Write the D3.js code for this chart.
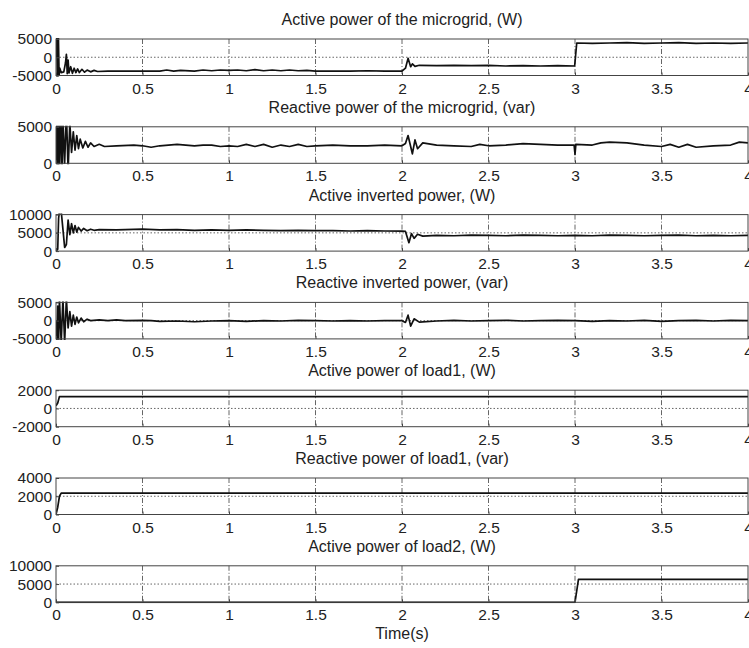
<!DOCTYPE html>
<html>
<head>
<meta charset="utf-8">
<script src="https://cdn.jsdelivr.net/npm/d3@7"></script>
<style>
  body { margin: 0; background: #fff; }
  svg { display: block; font-family: "Liberation Sans", Arial, sans-serif; }
</style>
</head>
<body>
<svg id="chart" width="749" height="648"></svg>
<script>
// panel titles, top to bottom
const titles = [
  "Active power of the microgrid, (W)",
  "Reactive power of the microgrid, (var)",
  "Active inverted power, (W)",
  "Reactive inverted power, (var)",
  "Active power of load1, (W)",
  "Reactive power of load1, (var)",
  "Active power of load2, (W)"
];

const yDomains = [
  [-5000, 5000], [0, 5000], [0, 10000], [-5000, 5000],
  [-2000, 2000], [0, 4000], [0, 10000]
];
const yTicks = [
  [-5000, 0, 5000], [0, 5000], [0, 5000, 10000], [-5000, 0, 5000],
  [-2000, 0, 2000], [0, 2000, 4000], [0, 5000, 10000]
];
const xTicks = [0, 0.5, 1, 1.5, 2, 2.5, 3, 3.5, 4];

// [time (s), value]
const microgridP = [
  [0, 0], [0.003, 9000], [0.008, -6000], [0.013, 8000], [0.018, -5000], [0.022, -3000],
  [0.03, -4200], [0.045, -4000], [0.055, -1500], [0.06, 800], [0.065, -4500], [0.07, -800],
  [0.075, -4300], [0.085, -2600], [0.095, -4400], [0.105, -3000], [0.115, -4200], [0.125, -3200],
  [0.135, -4200], [0.15, -3300], [0.165, -4100], [0.18, -3500], [0.2, -4000], [0.22, -3600],
  [0.24, -3900], [0.3, -3800], [0.4, -3800], [0.5, -3800], [0.6, -3800], [0.64, -3500],
  [0.68, -3800], [0.72, -3600], [0.8, -3800], [0.85, -3500], [0.9, -3700], [0.95, -3500],
  [1.0, -3600], [1.05, -3500], [1.1, -3700], [1.15, -3400], [1.2, -3700], [1.25, -3500],
  [1.3, -3700], [1.35, -3500], [1.4, -3700], [1.45, -3600], [1.5, -3800], [1.6, -3800],
  [1.7, -3800], [1.8, -3700], [1.9, -3800], [2.0, -3800], [2.02, -3000], [2.035, -300],
  [2.05, -2600], [2.06, -1800], [2.075, -2500], [2.1, -2200], [2.2, -2300], [2.3, -2200],
  [2.4, -2300], [2.5, -2200], [2.6, -2400], [2.7, -2300], [2.8, -2400], [2.9, -2300],
  [2.998, -2400], [3.01, 3900], [3.1, 3800], [3.2, 3900], [3.3, 4000], [3.4, 3800],
  [3.5, 3900], [3.6, 4000], [3.7, 3800], [3.8, 3900], [3.9, 3800], [4.0, 3900]
];
const microgridQ = [
  [0, 0], [0.005, 8000], [0.01, -2000], [0.015, 8000], [0.02, -2000], [0.028, 8000],
  [0.035, -2000], [0.04, 6000], [0.05, 0], [0.06, 7000], [0.07, -1000], [0.08, 5500],
  [0.09, 1500], [0.1, 4300], [0.11, 1800], [0.12, 3800], [0.13, 2000], [0.14, 3300],
  [0.155, 2100], [0.17, 3000], [0.185, 2200], [0.2, 2800], [0.22, 2300], [0.25, 2600],
  [0.28, 2300], [0.35, 2400], [0.45, 2500], [0.5, 2400], [0.55, 2200], [0.6, 2400],
  [0.65, 2500], [0.7, 2600], [0.75, 2500], [0.8, 2400], [0.85, 2500], [0.9, 2500],
  [0.95, 2300], [1.0, 2400], [1.05, 2300], [1.1, 2600], [1.15, 2300], [1.2, 2600],
  [1.25, 2200], [1.3, 2500], [1.35, 2300], [1.4, 2600], [1.45, 2300], [1.5, 2400],
  [1.6, 2500], [1.7, 2400], [1.8, 2400], [1.9, 2500], [2.0, 2400], [2.02, 2700],
  [2.035, 3800], [2.06, 1300], [2.075, 3200], [2.09, 2000], [2.12, 2800], [2.2, 2500],
  [2.3, 2400], [2.4, 2300], [2.45, 2600], [2.5, 2400], [2.6, 2500], [2.7, 2700],
  [2.8, 2600], [2.9, 2500], [2.995, 2500], [3.0, 1200], [3.005, 2600], [3.1, 2500],
  [3.15, 2800], [3.2, 2900], [3.3, 2800], [3.4, 2500], [3.5, 2300], [3.55, 2600],
  [3.6, 2200], [3.65, 2600], [3.7, 2200], [3.8, 2400], [3.9, 2500], [3.95, 2900], [4.0, 2800]
];
const inverterP = [
  [0, 0], [0.01, 500], [0.015, 9000], [0.02, 11000], [0.025, 10500], [0.03, 11000],
  [0.04, 6000], [0.05, 1000], [0.06, 1800], [0.07, 8500], [0.08, 4500], [0.09, 7500],
  [0.1, 5000], [0.11, 7000], [0.12, 5200], [0.13, 6500], [0.145, 5500], [0.16, 6200],
  [0.18, 5600], [0.2, 6000], [0.22, 5700], [0.25, 5900], [0.35, 5800], [0.5, 6000],
  [0.6, 5800], [0.7, 5900], [0.8, 5700], [0.9, 5800], [1.0, 5700], [1.1, 5800],
  [1.2, 5700], [1.3, 5600], [1.4, 5700], [1.5, 5600], [1.6, 5600], [1.7, 5500],
  [1.8, 5600], [1.9, 5500], [2.0, 5500], [2.02, 5400], [2.04, 2300], [2.055, 4800],
  [2.07, 3500], [2.09, 4600], [2.12, 4100], [2.2, 4300], [2.3, 4200], [2.4, 4400],
  [2.5, 4300], [2.6, 4200], [2.7, 4400], [2.8, 4300], [2.9, 4200], [3.0, 4300],
  [3.1, 4200], [3.2, 4400], [3.3, 4300], [3.4, 4200], [3.5, 4300], [3.6, 4400],
  [3.7, 4200], [3.8, 4300], [3.9, 4200], [4.0, 4300]
];
const inverterQ = [
  [0, 0], [0.005, -6000], [0.01, 4000], [0.015, -6000], [0.02, 6000], [0.03, -6000],
  [0.04, 6000], [0.05, -6000], [0.06, 6000], [0.07, -2000], [0.08, 2500], [0.09, -1500],
  [0.1, 1500], [0.11, -1000], [0.12, 1000], [0.13, -600], [0.145, 700], [0.16, -300],
  [0.18, 400], [0.2, 0], [0.25, 200], [0.3, 0], [0.35, 200], [0.4, 0], [0.5, 100],
  [0.55, 0], [0.6, -200], [0.7, -100], [0.8, -300], [0.9, -100], [1.0, 0], [1.1, -200],
  [1.2, 0], [1.3, -100], [1.4, 100], [1.5, 0], [1.6, -100], [1.7, 0], [1.8, -100],
  [1.9, 0], [2.0, 0], [2.02, -500], [2.035, 1500], [2.05, -1500], [2.07, 500], [2.1, -400],
  [2.2, -100], [2.3, 100], [2.4, -100], [2.5, 0], [2.6, 100], [2.7, -100], [2.8, 0],
  [2.9, 100], [3.0, 0], [3.1, -200], [3.2, 0], [3.3, -100], [3.4, 100], [3.5, -200],
  [3.6, 0], [3.7, 100], [3.8, -100], [3.9, 100], [4.0, 0]
];
const load1P = [[0, 300], [0.01, 600], [0.02, 1300], [4.0, 1300]];
const load1Q = [[0, 0], [0.01, 800], [0.02, 2000], [0.03, 2350], [4.0, 2350]];
const load2P = [[0, 0], [3.0, 0], [3.02, 6300], [4.0, 6300]];

const series = [microgridP, microgridQ, inverterP, inverterQ, load1P, load1Q, load2P];

const svg = d3.select("#chart");
const left = 56, right = 748, firstTop = 39, step = 87.8, panelH = 36.5;

const x = d3.scaleLinear().domain([0, 4]).range([left, right]);

series.forEach((data, i) => {
  const top = firstTop + i * step;
  const y = d3.scaleLinear().domain(yDomains[i]).range([top + panelH, top]);
  const g = svg.append("g");

  // grid
  g.selectAll("line.vg")
    .data(xTicks.slice(1, -1))
    .join("line")
    .attr("x1", d => x(d)).attr("x2", d => x(d))
    .attr("y1", top).attr("y2", top + panelH)
    .attr("stroke", "#555").attr("stroke-width", 0.9)
    .attr("stroke-dasharray", "5,2,1,2");
  g.selectAll("line.hg")
    .data(yTicks[i].slice(1, -1))
    .join("line")
    .attr("x1", left).attr("x2", right)
    .attr("y1", d => y(d)).attr("y2", d => y(d))
    .attr("stroke", "#555").attr("stroke-width", 0.9)
    .attr("stroke-dasharray", "1.5,2");

  // curve
  const clipId = "clip" + i;
  svg.append("clipPath").attr("id", clipId)
    .append("rect")
    .attr("x", left).attr("y", top - 1)
    .attr("width", right - left).attr("height", panelH + 2);
  g.append("path")
    .datum(data)
    .attr("clip-path", `url(#${clipId})`)
    .attr("d", d3.line().x(d => x(d[0])).y(d => y(d[1])))
    .attr("fill", "none")
    .attr("stroke", "#111")
    .attr("stroke-width", 1.7)
    .attr("stroke-linejoin", "round");

  // box
  g.append("rect")
    .attr("x", left).attr("y", top)
    .attr("width", right - left).attr("height", panelH)
    .attr("fill", "none").attr("stroke", "#444").attr("stroke-width", 1);

  // axes
  const xa = g.append("g")
    .attr("transform", `translate(0,${top + panelH})`)
    .call(d3.axisBottom(x).tickValues(xTicks).tickFormat(d3.format("~g"))
      .tickSizeInner(-3).tickSizeOuter(0).tickPadding(7));
  const ya = g.append("g")
    .attr("transform", `translate(${left},0)`)
    .call(d3.axisLeft(y).tickValues(yTicks[i]).tickFormat(d => String(d))
      .tickSizeInner(-3).tickSizeOuter(0).tickPadding(4));
  [xa, ya].forEach(a => {
    a.select(".domain").remove();
    a.selectAll(".tick line").attr("stroke", "#444");
    a.selectAll("text").attr("font-size", 15.5).attr("fill", "#222")
      .attr("font-family", "'Liberation Sans', Arial, sans-serif");
  });

  // title
  svg.append("text")
    .attr("x", (left + right) / 2)
    .attr("y", top - 14)
    .attr("text-anchor", "middle")
    .attr("font-size", 16)
    .attr("fill", "#222")
    .text(titles[i]);
});

svg.append("text")
  .attr("x", (left + right) / 2)
  .attr("y", 639)
  .attr("text-anchor", "middle")
  .attr("font-size", 16)
  .attr("fill", "#222")
  .text("Time(s)");
</script>
</body>
</html>
